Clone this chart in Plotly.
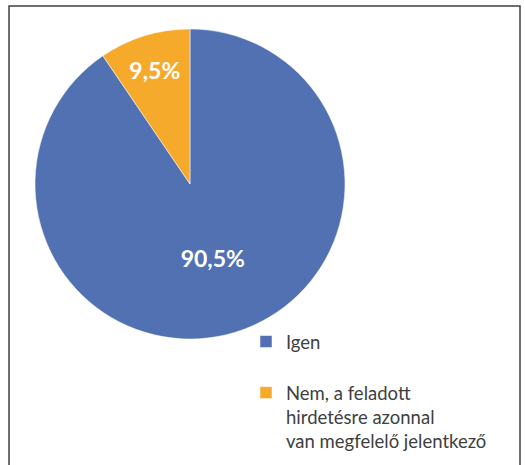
import plotly.graph_objects as go

labels = ["Igen<br><span style='font-size:10px'> </span>",
          "Nem, a feladott<br>hirdetésre azonnal<br>van megfelelő jelentkező"]
values = [90.5, 9.5]
colors = ["#5171B3", "#F6AA2B"]

W, H = 525, 465
cx, cy, r = 190, 184, 155

fig = go.Figure(go.Pie(
    labels=labels,
    values=values,
    sort=False,
    direction="clockwise",
    rotation=0,
    marker=dict(colors=colors, line=dict(color="white", width=0.5)),
    texttemplate="%{percent:.1%}",
    textposition="inside",
    insidetextorientation="horizontal",
    textfont=dict(family="Lato", size=23, color="white", weight="bold"),
    hoverinfo="percent",
    domain=dict(x=[(cx - r) / W, (cx + r) / W], y=[(H - cy - r) / H, (H - cy + r) / H]),
))

fig.update_layout(
    width=W, height=H,
    margin=dict(l=0, r=0, t=0, b=0),
    separators=", ",
    paper_bgcolor="white",
    showlegend=True,
    legend=dict(
        x=246 / W, y=(H - 323) / H, xanchor="left", yanchor="top",
        font=dict(family="Lato", size=18.5, color="#404040"),
        valign="top",
        bgcolor="rgba(0,0,0,0)",
    ),
    shapes=[dict(type="rect", xref="paper", yref="paper",
                 x0=9 / W, x1=520 / W, y0=-0.2, y1=(H - 6) / H,
                 line=dict(color="#404040", width=1.5), fillcolor="rgba(0,0,0,0)")],
)

fig.write_html("out.html", config={"displayModeBar": False},
               post_script="document.body.style.margin='0';")
